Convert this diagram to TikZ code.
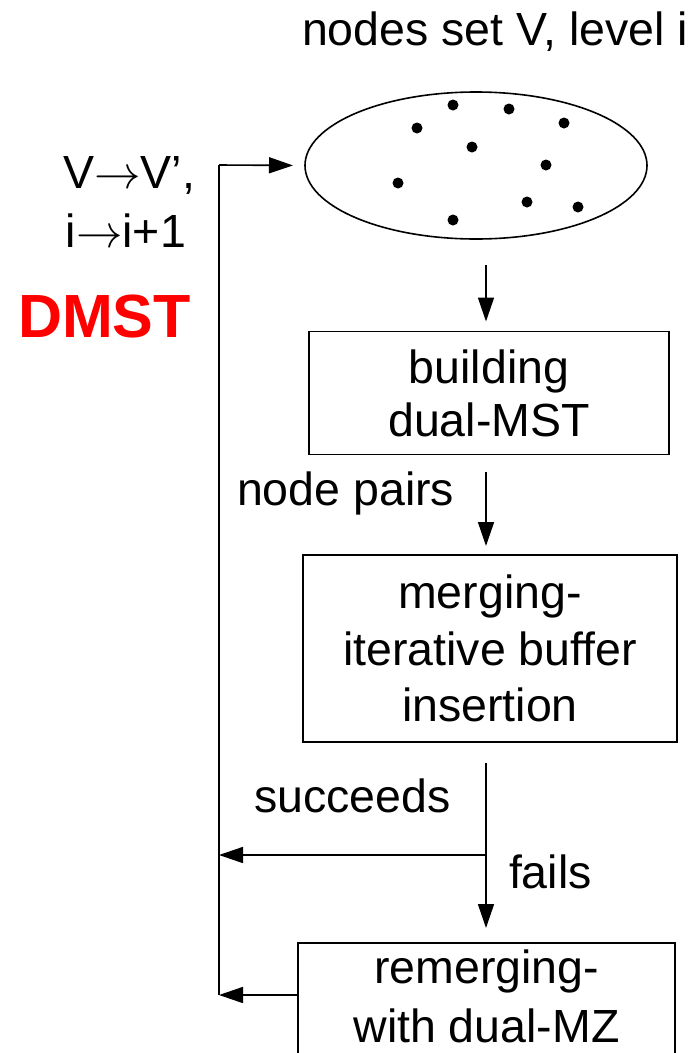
\RequirePackage{fix-cm}
\documentclass[tikz,border=0pt]{standalone}
\usepackage{fontspec}
\setmainfont{Liberation Sans}
\usetikzlibrary{arrows.meta,shapes.geometric}
\begin{document}
\begin{tikzpicture}[x=1bp,y=-1bp,
  every node/.style={inner sep=0pt, outer sep=0pt},
  txt/.style={font=\fontsize{46.5bp}{54bp}\selectfont},
  procbox/.style={draw, line width=1.6bp, align=center},
  link/.style={line width=1.6bp},
  arr/.style={link, -{Triangle[length=24bp,width=16bp]}}]
\useasboundingbox (0,0) rectangle (697,1053);

% node set at the current level
\node[draw, ellipse, line width=1.6bp, minimum width=342bp, minimum height=147bp] (ell) at (476,165.5) {};
\foreach \px/\py in {453/105, 509/109, 417/128, 564/123, 472/147,
                     546/165, 398/183, 527/202, 578/207, 453/220}
  \fill (\px,\py) circle[radius=5.5bp];

% labels
\node[txt, anchor=base west] (title) at (302,45) {nodes set V, level i};
\node[txt, anchor=base east] (ren1) at (195,188) {V$\rightarrow$V’,};
\node[txt, anchor=base east] (ren2) at (186,247) {i$\rightarrow$i+1};
\node[font=\fontsize{61bp}{70bp}\selectfont\bfseries, text=red, anchor=base west] (dmst) at (18,337) {DMST};
\node[txt, anchor=base west] (np) at (237,505) {node pairs};
\node[txt, anchor=base west] (succ) at (254,812) {succeeds};
\node[txt, anchor=base west] (fail) at (509,888) {fails};

% processing steps
\node[procbox, minimum width=360bp, minimum height=123bp,
      font=\fontsize{46.5bp}{53bp}\selectfont] (bld) at (489,393) {building\\dual-MST};
\node[procbox, minimum width=374bp, minimum height=187bp,
      font=\fontsize{46.5bp}{56.5bp}\selectfont] (mrg) at (490,648.5) {merging-\\iterative buffer\\insertion};
\node[procbox, minimum width=377bp, minimum height=130bp, anchor=north] (rem) at (486.5,943) {};
\node[align=center, font=\fontsize{46.5bp}{59bp}\selectfont] (remt) at (486.5,996) {remerging-\\with dual-MZ};

% flow
\coordinate (br) at (486,855);
\coordinate (lt) at (219,165);
\coordinate (lb) at (219,995);
\draw[arr, shorten <=26bp, shorten >=10bp] (ell.south -| br) -- (bld.north -| br);
\draw[arr, shorten <=17bp, shorten >=9bp] (bld.south -| br) -- (mrg.north -| br);
\draw[arr, shorten <=21bp, shorten >=15bp] (mrg.south -| br) -- (rem.north -| br);
\draw[arr] (br) -- (br -| lb);
\draw[arr] (lb -| rem.west) -- (lb);
\draw[link] (lb) -- (lt);
\draw[arr, shorten >=12bp] (lt) -- (ell.west);
\end{tikzpicture}
\end{document}
